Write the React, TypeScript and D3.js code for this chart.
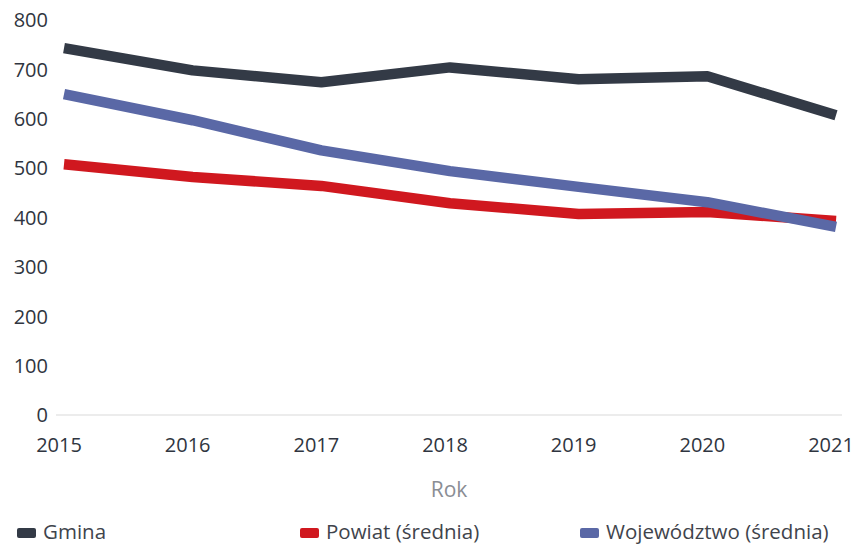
import React from "react";
import * as d3 from "d3";

const years = [2015, 2016, 2017, 2018, 2019, 2020, 2021];
const gmina = [743, 698, 674, 704, 680, 686, 607];
const powiat = [508, 482, 464, 429, 407, 411, 393];
const wojewodztwo = [650, 597, 536, 494, 462, 431, 381];
const yTicks = [0, 100, 200, 300, 400, 500, 600, 700, 800];
const seriesNames = ["Gmina", "Powiat (średnia)", "Województwo (średnia)"];
const seriesColors = ["#333a46", "#d0181f", "#5a68a6"];

const W = 863;
const H = 546;
const FONT = "'Open Sans', 'Noto Sans', sans-serif";

export default function App() {
  const x = d3.scaleLinear().domain([2015, 2021]).range([64, 836]);
  const y = d3.scaleLinear().domain([0, 800]).range([415, 20]);
  const line = d3
    .line<number>()
    .x((_, i) => x(years[i]))
    .y((d) => y(d));
  const series = [gmina, powiat, wojewodztwo];
  const legendX = [17, 300, 580];

  return (
    <svg
      width={W}
      height={H}
      style={{ position: "absolute", left: 0, top: 0, background: "#fff" }}
      fontFamily={FONT}
    >
      <line x1={56} x2={842} y1={y(0)} y2={y(0)} stroke="#ececec" strokeWidth={2} />
      {yTicks.map((t) => (
        <text
          key={t}
          x={48}
          y={y(t) + 2}
          textAnchor="end"
          dominantBaseline="middle"
          fontSize={20}
          fontWeight={500}
          fill="#2f3540"
        >
          {t}
        </text>
      ))}
      {years.map((yr) => (
        <text
          key={yr}
          x={x(yr) - 5}
          y={452}
          textAnchor="middle"
          fontSize={20}
          fontWeight={500}
          fill="#2f3540"
        >
          {yr}
        </text>
      ))}
      <text x={449} y={497} textAnchor="middle" fontSize={21} fill="#8a8d94">
        Rok
      </text>
      {[powiat, wojewodztwo, gmina].map((s) => {
        const i = series.indexOf(s);
        return (
          <path
            key={i}
            d={line(s) || ""}
            fill="none"
            stroke={seriesColors[i]}
            strokeWidth={10.5}
            strokeLinejoin="round"
          />
        );
      })}
      {seriesNames.map((n, i) => (
        <g key={n} transform={`translate(${legendX[i]},533)`}>
          <rect x={0} y={-5} width={19} height={10} rx={2} fill={seriesColors[i]} />
          <text x={26} y={1} dominantBaseline="middle" fontSize={20.5} fill="#3f444c">
            {n}
          </text>
        </g>
      ))}
    </svg>
  );
}
